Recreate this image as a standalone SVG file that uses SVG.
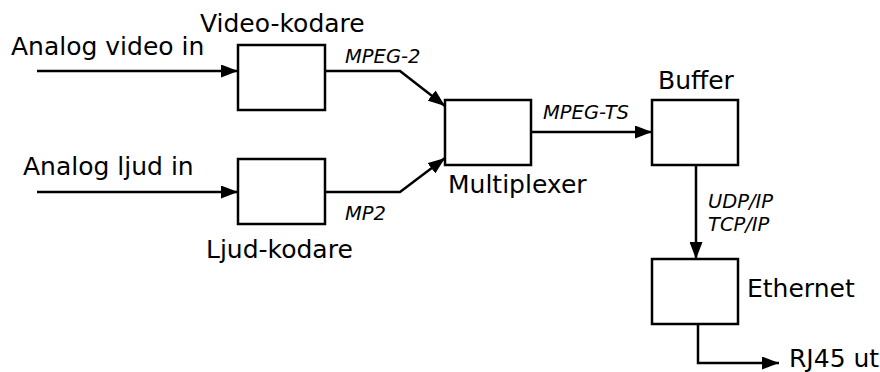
<svg xmlns="http://www.w3.org/2000/svg" width="880" height="372" viewBox="0 0 880 372">
<style>
.box{fill:#fff;stroke:#000;stroke-width:2.5}
.ln{fill:none;stroke:#000;stroke-width:2.5;marker-end:url(#ah)}
.t{font-family:"DejaVu Sans",sans-serif;font-size:25px;fill:#000}
.s{font-family:"DejaVu Sans",sans-serif;font-size:19.5px;font-style:italic;fill:#000}
</style>
<defs>
<marker id="ah" markerWidth="17" markerHeight="13" refX="17" refY="6.5" orient="auto" markerUnits="userSpaceOnUse">
<path d="M0,0 L17,6.5 L0,13 Z" fill="#000"/>
</marker>
</defs>
<rect width="880" height="372" fill="#fff"/>
<g id="connectors">
<path class="ln" d="M37,71 H238"/>
<path class="ln" d="M37,192 H238"/>
<path class="ln" d="M325,71 H400 L445,106"/>
<path class="ln" d="M325,192 H400 L445,158"/>
<path class="ln" d="M531,132 H652"/>
<path class="ln" d="M696,165 V259"/>
<path class="ln" d="M698,324 V363 H779"/>
<text class="s" x="345" y="63">MPEG-2</text>
<text class="s" x="345" y="220">MP2</text>
<text class="s" x="543" y="119">MPEG-TS</text>
<text class="s" x="708" y="208">UDP/IP</text>
<text class="s" x="708" y="231">TCP/IP</text>
</g>
<g id="in-video"><text class="t" x="11" y="55">Analog video in</text></g>
<g id="in-audio"><text class="t" x="23" y="175">Analog ljud in</text></g>
<g id="video-kodare"><rect class="box" x="238" y="45" width="87" height="65"/><text class="t" x="200" y="32">Video-kodare</text></g>
<g id="ljud-kodare"><rect class="box" x="238" y="159" width="87" height="65"/><text class="t" x="206" y="258">Ljud-kodare</text></g>
<g id="multiplexer"><rect class="box" x="445" y="100" width="86" height="65"/><text class="t" x="448" y="193">Multiplexer</text></g>
<g id="buffer"><rect class="box" x="652" y="100" width="86" height="65"/><text class="t" x="658" y="89">Buffer</text></g>
<g id="ethernet"><rect class="box" x="652" y="259" width="86" height="65"/><text class="t" x="747" y="297">Ethernet</text></g>
<g id="out"><text class="t" x="789" y="367">RJ45 ut</text></g>
</svg>
